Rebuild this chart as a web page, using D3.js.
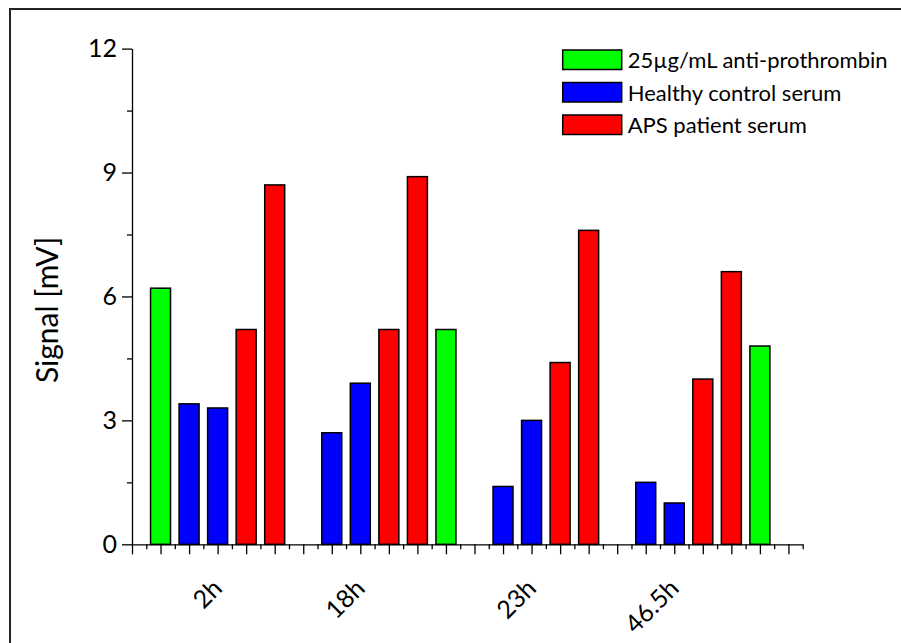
<!DOCTYPE html>
<html>
<head>
<meta charset="utf-8">
<script src="https://cdn.jsdelivr.net/npm/d3@7"></script>
<style>
  body { margin: 0; background: #fff; }
  svg { display: block; }
  text { font-family: Lato, "Open Sans", sans-serif; fill: #000; }
</style>
</head>
<body>
<svg id="chart" width="901" height="643"></svg>
<script>
// Series
const seriesNames  = ["25µg/mL anti-prothrombin", "Healthy control serum", "APS patient serum"];
const seriesColors = ["#00ff00", "#0000ff", "#ff0000"];

// Bar slots on the numeric x axis, grouped by time point
const slots      = [1, 2, 3, 4, 5,   7, 8, 9, 10, 11,   13, 14, 15, 16,   18, 19, 20, 21, 22];
const slotSeries = [0, 1, 1, 2, 2,   1, 1, 2, 2, 0,     1, 1, 2, 2,       1, 1, 2, 2, 0];
const signal     = [6.2, 3.4, 3.3, 5.2, 8.7,
                    2.7, 3.9, 5.2, 8.9, 5.2,
                    1.4, 3.0, 4.4, 7.6,
                    1.5, 1.0, 4.0, 6.6, 4.8];

// Time point labels and the slot each one sits under
const timeLabels     = ["2h", "18h", "23h", "46.5h"];
const timeLabelSlots = [3, 8, 14, 19];

// Axis ticks
const yMajor = [0, 3, 6, 9, 12];
const yMinor = [1.5, 4.5, 7.5, 10.5];
const xMajor = d3.range(0, 24, 1);
const xMinor = d3.range(0.5, 24, 1);

const svg = d3.select("#chart");

// outer frame
svg.append("rect")
  .attr("x", 10).attr("y", 9)
  .attr("width", 1000).attr("height", 1000)
  .attr("fill", "none")
  .attr("stroke", "#222")
  .attr("stroke-width", 2);

const x = d3.scaleLinear().domain([0, 23.5]).range([132, 802.7]);
const y = d3.scaleLinear().domain([0, 12]).range([544.3, 48.6]);
const barW = x(0.7) - x(0);

// bars
svg.append("g").selectAll("rect")
  .data(slots.map((s, i) => ({ s, v: signal[i], k: slotSeries[i] })))
  .join("rect")
  .attr("x", d => x(d.s) - barW / 2)
  .attr("y", d => y(d.v))
  .attr("width", barW)
  .attr("height", d => y(0) - y(d.v))
  .attr("fill", d => seriesColors[d.k])
  .attr("stroke", "#000")
  .attr("stroke-width", 1.5);

// x axis: major and minor ticks, no built-in labels
const xAxisG = svg.append("g").attr("transform", `translate(0,${y(0)})`);
xAxisG.call(d3.axisBottom(x).tickValues(xMajor).tickSize(10).tickSizeOuter(0).tickFormat(""));
xAxisG.append("g").call(d3.axisBottom(x).tickValues(xMinor).tickSize(5).tickSizeOuter(0).tickFormat(""))
  .select(".domain").remove();

// y axis
const yAxisG = svg.append("g").attr("transform", `translate(${x(0)},0)`);
yAxisG.call(d3.axisLeft(y).tickValues(yMajor).tickSize(10).tickSizeOuter(0).tickPadding(5));
yAxisG.append("g").call(d3.axisLeft(y).tickValues(yMinor).tickSize(5).tickSizeOuter(0).tickFormat(""))
  .select(".domain").remove();

svg.selectAll(".domain, .tick line").attr("stroke", "#000").attr("stroke-width", 1.3);
yAxisG.selectAll(".tick text")
  .style("font-family", "Lato, sans-serif")
  .style("font-size", "25px")
  .attr("fill", "#000");

// rotated time point labels
svg.append("g").selectAll("text")
  .data(timeLabels)
  .join("text")
  .attr("transform", (d, i) => `translate(${x(timeLabelSlots[i]) + 6},590) rotate(-45)`)
  .attr("text-anchor", "end")
  .style("font-size", "25px")
  .text(d => d);

// y axis title
svg.append("text")
  .attr("transform", "translate(58,310) rotate(-90)")
  .attr("text-anchor", "middle")
  .style("font-size", "30px")
  .text("Signal [mV]");

// legend
const legend = svg.append("g").selectAll("g")
  .data(seriesNames)
  .join("g")
  .attr("transform", (d, i) => `translate(562.7,${50 + i * 32.5})`);
legend.append("rect")
  .attr("width", 59).attr("height", 19.5)
  .attr("fill", (d, i) => seriesColors[i])
  .attr("stroke", "#000").attr("stroke-width", 1.5);
legend.append("text")
  .attr("x", 65).attr("y", 18)
  .style("font-size", "22px")
  .text(d => d);
</script>
</body>
</html>
